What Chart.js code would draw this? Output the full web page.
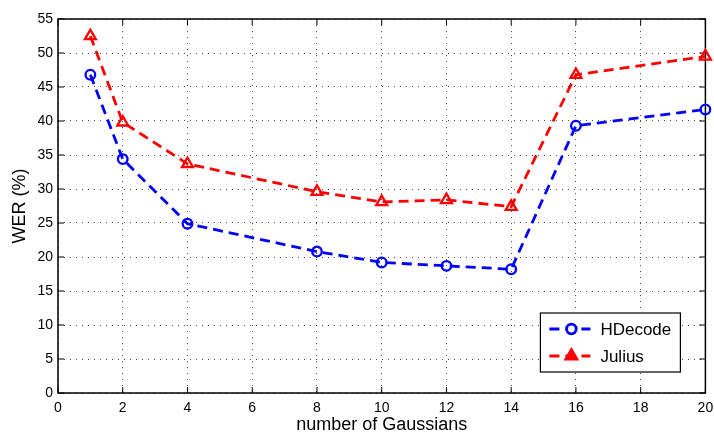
<!DOCTYPE html>
<html>
<head>
<meta charset="utf-8">
<script src="https://cdn.jsdelivr.net/npm/chart.js@4"></script>
<style>
  html, body { margin: 0; padding: 0; background: #fff; }
</style>
</head>
<body>
<canvas id="werChart" width="714" height="432"></canvas>
<script>
const gaussians = [1, 2, 4, 8, 10, 12, 14, 16, 20];
const hdecodeWer = [46.8, 34.4, 24.9, 20.8, 19.2, 18.7, 18.2, 39.3, 41.7];
const juliusWer = [52.5, 39.8, 33.7, 29.6, 28.1, 28.4, 27.4, 46.8, 49.5];
const xTicks = [0, 2, 4, 6, 8, 10, 12, 14, 16, 18, 20];
const yTicks = [0, 5, 10, 15, 20, 25, 30, 35, 40, 45, 50, 55];

const fontFamily = "'Liberation Sans', Arial, Helvetica, sans-serif";

// box + inward ticks, matlab style
const frame = {
  id: 'frame',
  beforeDatasetsDraw(chart) {
    const {ctx, chartArea: a, scales} = chart;
    ctx.save();
    ctx.strokeStyle = '#000';
    ctx.setLineDash([]);
    ctx.lineWidth = 1;
    ctx.beginPath();
    xTicks.forEach(v => {
      const px = scales.x.getPixelForValue(v);
      ctx.moveTo(px, a.bottom); ctx.lineTo(px, a.bottom - 6);
      ctx.moveTo(px, a.top); ctx.lineTo(px, a.top + 6);
    });
    yTicks.forEach(v => {
      const py = scales.y.getPixelForValue(v);
      ctx.moveTo(a.left, py); ctx.lineTo(a.left + 6, py);
      ctx.moveTo(a.right, py); ctx.lineTo(a.right - 6, py);
    });
    ctx.stroke();
    ctx.lineWidth = 1.5;
    ctx.strokeRect(a.left, a.top, a.right - a.left, a.bottom - a.top);
    ctx.restore();
  }
};

const legendBox = {
  id: 'legendBox',
  afterDatasetsDraw(chart) {
    const {ctx, chartArea: a} = chart;
    const w = 140, h = 59;
    const x0 = a.right - 25 - w, y0 = a.bottom - 21 - h;
    ctx.save();
    ctx.fillStyle = '#fff';
    ctx.fillRect(x0, y0, w, h);
    ctx.strokeStyle = '#000';
    ctx.lineWidth = 1.2;
    ctx.strokeRect(x0, y0, w, h);
    chart.data.datasets.forEach((ds, i) => {
      const y = y0 + 16 + i * 27;
      ctx.strokeStyle = ds.borderColor;
      ctx.lineWidth = ds.borderWidth;
      ctx.setLineDash(ds.borderDash);
      ctx.beginPath();
      ctx.moveTo(x0 + 9, y);
      ctx.lineTo(x0 + 50, y);
      ctx.stroke();
      ctx.setLineDash([]);
      ctx.fillStyle = ds.pointStyle === 'triangle' ? ds.borderColor : '#fff';
      Chart.helpers.drawPoint(ctx, {
        pointStyle: ds.pointStyle,
        radius: ds.pointRadius,
        borderWidth: ds.pointBorderWidth,
        rotation: 0
      }, x0 + 31, y);
      ctx.fillStyle = '#000';
      ctx.font = '17px ' + fontFamily;
      ctx.textBaseline = 'middle';
      ctx.fillText(ds.label, x0 + 60, y + 1);
    });
    ctx.restore();
  }
};

const lineStyle = {
  borderWidth: 2.8,
  borderDash: [10, 6],
  pointBackgroundColor: 'rgba(0,0,0,0)',
  pointBorderWidth: 2.3,
  tension: 0,
  fill: false,
  clip: false
};

new Chart(document.getElementById('werChart').getContext('2d'), {
  type: 'line',
  data: {
    datasets: [
      {
        ...lineStyle,
        label: 'HDecode',
        data: gaussians.map((g, i) => ({x: g, y: hdecodeWer[i]})),
        borderColor: '#0000ff',
        pointBorderColor: '#0000ff',
        pointStyle: 'circle',
        pointRadius: 4.8
      },
      {
        ...lineStyle,
        label: 'Julius',
        data: gaussians.map((g, i) => ({x: g, y: juliusWer[i]})),
        borderColor: '#ff0000',
        pointBorderColor: '#ff0000',
        pointStyle: 'triangle',
        pointRadius: 6.3
      }
    ]
  },
  options: {
    responsive: false,
    animation: false,
    devicePixelRatio: 1,
    layout: { padding: { left: 0, top: 19, right: 7, bottom: 0 } },
    plugins: { legend: { display: false }, tooltip: { enabled: false } },
    scales: {
      x: {
        type: 'linear',
        min: 0,
        max: 20,
        afterBuildTicks: s => { s.ticks = xTicks.map(v => ({value: v})); },
        afterFit: s => { s.height = 39; s.paddingLeft = 0; s.paddingRight = 0; },
        grid: { color: 'rgba(0,0,0,0.7)', lineWidth: 1, drawTicks: false },
        border: { display: false, dash: [1, 5] },
        ticks: { color: '#000', padding: 7, maxRotation: 0, font: { family: fontFamily, size: 14 } },
        title: {
          display: true,
          text: 'number of Gaussians',
          color: '#000',
          padding: 0,
          font: { family: fontFamily, size: 18, lineHeight: 0.8 }
        }
      },
      y: {
        min: 0,
        max: 55,
        afterBuildTicks: s => { s.ticks = yTicks.map(v => ({value: v})); },
        afterFit: s => { s.width = 58; s.paddingTop = 0; s.paddingBottom = 0; },
        grid: { color: 'rgba(0,0,0,0.7)', lineWidth: 1, drawTicks: false },
        border: { display: false, dash: [1, 5] },
        ticks: { color: '#000', padding: 5, font: { family: fontFamily, size: 14 } },
        title: {
          display: true,
          text: 'WER (%)',
          color: '#000',
          padding: { top: 9, bottom: 0 },
          font: { family: fontFamily, size: 18 }
        }
      }
    }
  },
  plugins: [frame, legendBox]
});
</script>
</body>
</html>
